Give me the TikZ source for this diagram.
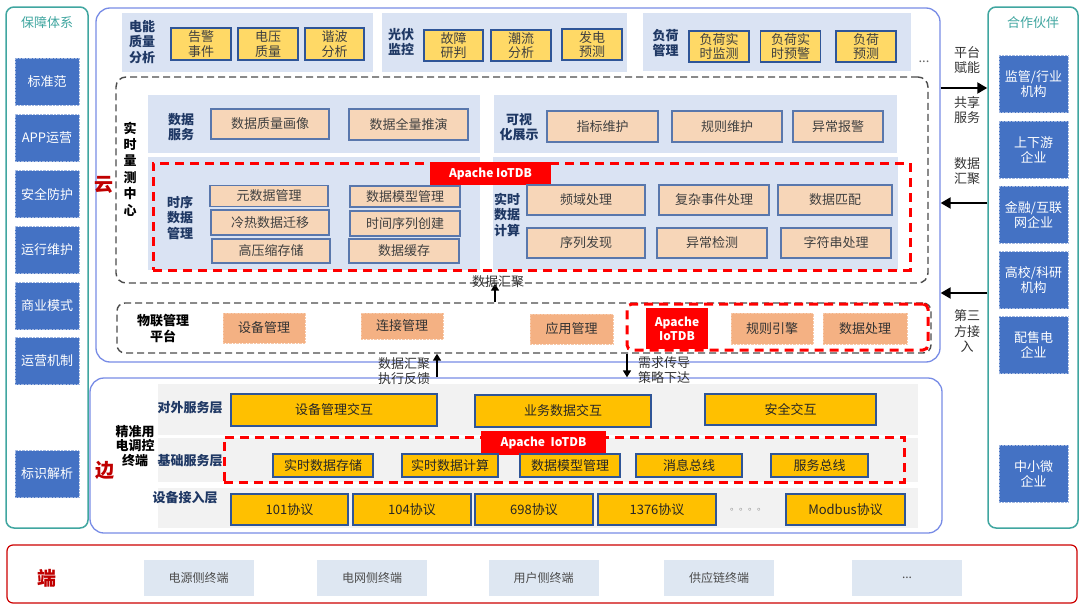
\documentclass[tikz,border=0pt]{standalone}
\usepackage{fontspec}
\setmainfont{Noto Sans CJK SC}
\usepackage{tikz}
\usetikzlibrary{arrows.meta}
\usepackage{xcolor}
\definecolor{gdteal}{RGB}{64,166,160}
\definecolor{sideblue}{RGB}{68,114,196}
\definecolor{frameblue}{RGB}{120,140,230}
\definecolor{panelblue}{RGB}{218,227,243}
\definecolor{ylw}{RGB}{255,217,102}
\definecolor{boxblue}{RGB}{47,85,151}
\definecolor{peach}{RGB}{247,214,184}
\definecolor{orng}{RGB}{244,177,131}
\definecolor{gold}{RGB}{255,192,0}
\definecolor{bandgray}{RGB}{242,242,242}
\definecolor{navy}{RGB}{31,56,100}
\definecolor{darkred}{RGB}{192,0,0}
\definecolor{termblue}{RGB}{222,231,242}
\tikzset{
  sidepanel/.style={draw=gdteal,line width=1.5pt,rounded corners=8pt,inner sep=0pt},
  sidetitle/.style={text=gdteal,inner sep=0pt},
  sidebox/.style={fill=sideblue,draw=sideblue!50!white,densely dotted,text=white,align=center,
    minimum width=64,minimum height=47,inner sep=0pt},
  bigframe/.style={draw=frameblue,line width=1.3pt,rounded corners=14pt,inner sep=0pt},
  dashframe/.style={draw=black!70,line width=1.4pt,dash pattern=on 7pt off 4pt,rounded corners=10pt,inner sep=0pt},
  redframe/.style={draw=red,line width=3pt,dash pattern=on 9pt off 6pt,inner sep=0pt},
  redtag/.style={fill=red,text=white,font=\bfseries\fontsize{12}{14}\selectfont,align=center,inner sep=0pt},
  panel/.style={fill=panelblue,inner sep=0pt},
  band/.style={fill=bandgray,inner sep=0pt},
  ybox/.style={fill=ylw,draw=boxblue,line width=1.1pt,align=center,inner sep=0pt,text=black!75,
    font=\fontsize{13}{14.5}\selectfont},
  pbox/.style={fill=peach,draw=boxblue!80,line width=1.1pt,inner sep=0pt,text=black!75},
  obox/.style={fill=orng,draw=orng!70!white,densely dotted,inner sep=0pt,text=black!80},
  gbox/.style={fill=gold,draw=boxblue,line width=1.1pt,inner sep=0pt,text=black!85},
  tbox/.style={fill=termblue,inner sep=0pt,minimum width=110,minimum height=36,text=black!70,
    font=\fontsize{12}{14}\selectfont},
  lbl/.style={text=navy,font=\bfseries\fontsize{13}{15.5}\selectfont,align=center,inner sep=0pt},
  blbl/.style={text=black,font=\bfseries\fontsize{13}{15.5}\selectfont,align=center,inner sep=0pt},
  note/.style={text=black!80,font=\fontsize{13}{15.5}\selectfont,align=center,inner sep=0pt},
  tier/.style={text=darkred,font=\bfseries\fontsize{19}{20}\selectfont,inner sep=0pt},
  flowarrow/.style={-{Triangle[length=7pt,width=8pt]},line width=1.6pt,draw=black},
  sidearrow/.style={-{Triangle[length=10pt,width=11pt]},line width=2.2pt,draw=black}
}

\begin{document}
\begin{tikzpicture}[x=1pt,y=-1pt,font=\fontsize{13}{15}\selectfont]
  \useasboundingbox[fill=white] (0,0) rectangle (1080,605);

  % guarantee system
  \node[sidepanel,minimum width=82,minimum height=521] (guard) at (47,267.5) {};
  \node[sidetitle] (guardT) at (47,23) {保障体系};
  \node[sidebox] (std) at (47,81.5) {标准范};
  \node[sidebox] (app) at (47,138) {APP运营};
  \node[sidebox] (safe) at (47,194) {安全防护};
  \node[sidebox] (oper) at (47,250) {运行维护};
  \node[sidebox] (biz) at (47,306) {商业模式};
  \node[sidebox] (mech) at (47,361) {运营机制};
  \node[sidebox] (ident) at (47,474) {标识解析};

  % partners
  \node[sidepanel,minimum width=90,minimum height=521] (partner) at (1033,267.5) {};
  \node[sidetitle] (partnerT) at (1033,23) {合作伙伴};
  \node[sidebox,minimum width=69,minimum height=57] (reg) at (1033.5,84) {监管/行业\\机构};
  \node[sidebox,minimum width=69,minimum height=57] (chain) at (1033.5,149.5) {上下游\\企业};
  \node[sidebox,minimum width=69,minimum height=57] (fin) at (1033.5,214.5) {金融/互联\\网企业};
  \node[sidebox,minimum width=69,minimum height=57] (univ) at (1033.5,280) {高校/科研\\机构};
  \node[sidebox,minimum width=69,minimum height=57] (sale) at (1033.5,345) {配售电\\企业};
  \node[sidebox,minimum width=69,minimum height=57] (sme) at (1033.5,473.5) {中小微\\企业};

  % cloud
  \node[bigframe,minimum width=844,minimum height=354] (cloud) at (518,185) {};
  \node[tier] (cloudT) at (104,185) {云};

  \node[panel,minimum width=251,minimum height=59] (pq) at (247.5,42.5) {};
  \node[lbl] (pqT) at (142,42) {电能\\质量\\分析};
  \node[ybox,minimum width=60,minimum height=32] (alarm) at (201,44) {告警\\事件};
  \node[ybox,minimum width=60,minimum height=32] (volt) at (268,44) {电压\\质量};
  \node[ybox,minimum width=59,minimum height=32] (harm) at (334.5,44) {谐波\\分析};

  \node[panel,minimum width=245,minimum height=59] (pv) at (504.5,42.5) {};
  \node[lbl] (pvT) at (401,42) {光伏\\监控};
  \node[ybox,minimum width=59,minimum height=31] (fault) at (453.5,45.5) {故障\\研判};
  \node[ybox,minimum width=60,minimum height=31] (flow) at (521,45.5) {潮流\\分析};
  \node[ybox,minimum width=60,minimum height=31] (gen) at (592,44.5) {发电\\预测};

  \node[panel,minimum width=268,minimum height=58] (load) at (777,42) {};
  \node[lbl] (loadT) at (665.5,43) {负荷\\管理};
  \node[ybox,minimum width=60,minimum height=31] (lmon) at (719,46.5) {负荷实\\时监测};
  \node[ybox,minimum width=60,minimum height=31] (lwarn) at (790.5,46.5) {负荷实\\时预警};
  \node[ybox,minimum width=60,minimum height=31] (lfc) at (866,46.5) {负荷\\预测};
  \node[text=black!60,inner sep=0pt] (more1) at (924,62) {...};

  % real-time measurement centre
  \node[dashframe,minimum width=812,minimum height=206] (rtm) at (522,180) {};
  \node[blbl,font=\bfseries\fontsize{13}{16.4}\selectfont] (rtmT) at (130,169) {实\\时\\量\\测\\中\\心};

  \node[panel,minimum width=332,minimum height=58] (dsvc) at (314,124) {};
  \node[lbl] (dsvcT) at (181,127) {数据\\服务};
  \node[pbox,minimum width=118,minimum height=30] (dqp) at (270,124) {数据质量画像};
  \node[pbox,minimum width=119,minimum height=31] (dinf) at (408.5,124.5) {数据全量推演};

  \node[panel,minimum width=403,minimum height=58] (vis) at (695.5,124) {};
  \node[lbl] (visT) at (519,127) {可视\\化展示};
  \node[pbox,minimum width=111,minimum height=31] (kpi) at (602.5,126.5) {指标维护};
  \node[pbox,minimum width=110,minimum height=31] (rule) at (727,126.5) {规则维护};
  \node[pbox,minimum width=90,minimum height=31] (abn) at (838,126.5) {异常报警};

  \node[panel,minimum width=332,minimum height=113] (tsm) at (314,213.5) {};
  \node[panel,minimum width=405,minimum height=113] (rtc) at (695.5,213.5) {};
  \node[redframe,minimum width=757,minimum height=107] (iotdbA) at (531.5,216.5) {};
  \node[redtag,minimum width=121,minimum height=23] (iotdbAT) at (490.5,173.5) {Apache IoTDB};

  \node[lbl] (tsmT) at (180,218) {时序\\数据\\管理};
  \node[pbox,minimum width=118,minimum height=21] (meta) at (269,196) {元数据管理};
  \node[pbox,minimum width=118,minimum height=25] (migr) at (270,222.5) {冷热数据迁移};
  \node[pbox,minimum width=118,minimum height=24] (comp) at (271,251) {高压缩存储};
  \node[pbox,minimum width=110,minimum height=21] (model) at (405,196.5) {数据模型管理};
  \node[pbox,minimum width=110,minimum height=25] (tscr) at (405,223.5) {时间序列创建};
  \node[pbox,minimum width=110,minimum height=24] (cache) at (404,251) {数据缓存};

  \node[lbl] (rtcT) at (507,214.5) {实时\\数据\\计算};
  \node[pbox,minimum width=118,minimum height=30] (freq) at (586,200) {频域处理};
  \node[pbox,minimum width=110,minimum height=30] (cep) at (714,200) {复杂事件处理};
  \node[pbox,minimum width=114,minimum height=30] (match) at (835,200) {数据匹配};
  \node[pbox,minimum width=118,minimum height=30] (seq) at (586,243) {序列发现};
  \node[pbox,minimum width=110,minimum height=30] (anom) at (712,243) {异常检测};
  \node[pbox,minimum width=110,minimum height=30] (str) at (836,243) {字符串处理};

  % IoT management platform
  \node[dashframe,rounded corners=8pt,minimum width=814,minimum height=50] (iotp) at (524,328) {};
  \node[blbl] (iotpT) at (163,328.5) {物联管理\\平台};
  \node[obox,minimum width=82,minimum height=30] (devm) at (264,328) {设备管理};
  \node[obox,minimum width=82,minimum height=26] (conn) at (402,326) {连接管理};
  \node[obox,minimum width=83,minimum height=30] (appm) at (571.5,329) {应用管理};
  \node[redframe,rounded corners=5pt,minimum width=301,minimum height=46] (iotdbB) at (777.5,327) {};
  \node[redtag,minimum width=62,minimum height=41] (iotdbBT) at (677,328.5) {Apache\\IoTDB};
  \node[obox,minimum width=82,minimum height=31] (reng) at (772,328.5) {规则引擎};
  \node[obox,minimum width=84,minimum height=31] (dproc) at (865,328.5) {数据处理};

  \draw[flowarrow] ([xshift=-29]iotp.north) -- ([xshift=-27]rtm.south);
  \node[note] (gatherA) at (498,282) {数据汇聚};

  % edge
  \node[bigframe,minimum width=852,minimum height=155] (edge) at (516,455.5) {};
  \node[tier] (edgeT) at (105,470) {边};
  \node[blbl,font=\bfseries\fontsize{13}{14.5}\selectfont] (edgeN) at (135,446) {精准用\\电调控\\终端};

  \node[band,minimum width=760,minimum height=51] (outer) at (538,409.5) {};
  \node[band,minimum width=760,minimum height=44] (base) at (538,460) {};
  \node[band,minimum width=760,minimum height=40] (access) at (538,508) {};
  \node[lbl] (outerT) at (190,408) {对外服务层};
  \node[lbl] (baseT) at (190,461) {基础服务层};
  \node[lbl] (accessT) at (185,498) {设备接入层};

  \node[gbox,minimum width=206,minimum height=32] (devx) at (334,410) {设备管理交互};
  \node[gbox,minimum width=176,minimum height=32] (bizx) at (563,411) {业务数据交互};
  \node[gbox,minimum width=171,minimum height=31] (secx) at (790.5,409.5) {安全交互};

  \node[redframe,minimum width=680,minimum height=45] (iotdbC) at (564,459.5) {};
  \node[redtag,minimum width=125,minimum height=24] (iotdbCT) at (543.5,443) {Apache\ \ IoTDB};
  \node[gbox,minimum width=100,minimum height=23] (rtst) at (323,465.5) {实时数据存储};
  \node[gbox,minimum width=96,minimum height=23] (rtcp) at (450,465.5) {实时数据计算};
  \node[gbox,minimum width=100,minimum height=23] (dmod) at (570,465.5) {数据模型管理};
  \node[gbox,minimum width=106,minimum height=23] (msgb) at (689,465.5) {消息总线};
  \node[gbox,minimum width=97,minimum height=23] (svcb) at (819.5,465.5) {服务总线};

  \node[gbox,minimum width=117,minimum height=31] (p101) at (289.5,509.5) {101协议};
  \node[gbox,minimum width=118,minimum height=31] (p104) at (412,509.5) {104协议};
  \node[gbox,minimum width=118,minimum height=31] (p698) at (534,509.5) {698协议};
  \node[gbox,minimum width=118,minimum height=31] (p1376) at (657,509.5) {1376协议};
  \node[text=black!45,inner sep=0pt,font=\fontsize{9}{10}\selectfont] (more2) at (748,510) {。。。。};
  \node[gbox,minimum width=119,minimum height=31] (pmod) at (845.5,509.5) {Modbus协议};

  % cloud <-> edge
  \draw[flowarrow] ([xshift=-79]edge.north) -- ([xshift=-87]iotp.south);
  \node[note] (upT) at (404,371) {数据汇聚\\执行反馈};
  \draw[flowarrow] ([xshift=103]iotp.south) -- ([xshift=111]edge.north);
  \node[note] (downT) at (664,370) {需求传导\\策略下达};

  % cloud <-> partners
  \draw[sidearrow] ([yshift=97]cloud.east) -- ([yshift=97]cloud.east -| partner.west);
  \node[note] (empT) at (967,60) {平台\\赋能};
  \node[note] (shareT) at (967,110) {共享\\服务};
  \draw[sidearrow] ([yshift=-18]cloud.east -| partner.west) -- ([yshift=-18]cloud.east);
  \node[note] (gatherB) at (967,171) {数据\\汇聚};
  \draw[sidearrow] ([yshift=-108]cloud.east -| partner.west) -- ([yshift=-108]cloud.east);
  \node[note] (thirdT) at (967,331) {第三\\方接\\入};

  % terminals
  \node[draw=darkred!80!red,line width=1.2pt,rounded corners=6pt,minimum width=1070,minimum height=58,inner sep=0pt] (term) at (542,574) {};
  \node[tier] (termT) at (47,578) {端};
  \node[tbox] (tsrc) at (198.5,578) {电源侧终端};
  \node[tbox] (tgrid) at (372,578) {电网侧终端};
  \node[tbox] (tuser) at (543.5,578) {用户侧终端};
  \node[tbox] (tsup) at (719,578) {供应链终端};
  \node[tbox] (tmore) at (907,578) {...};
\end{tikzpicture}
\end{document}
